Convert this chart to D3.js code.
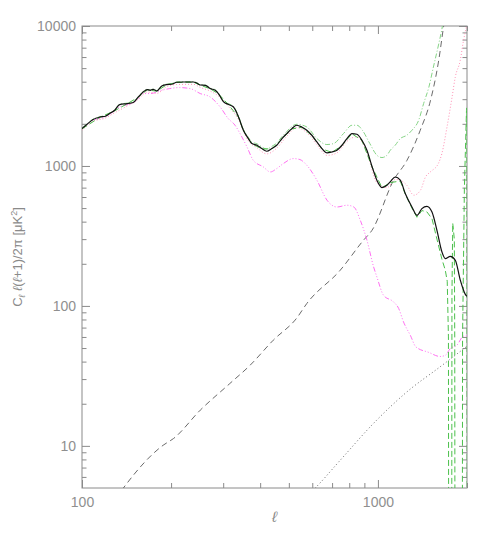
<!DOCTYPE html>
<html lang="en">
<head>
<meta charset="UTF-8">
<title>Power spectrum</title>
<style>
  html, body { margin: 0; background: #fff; }
  text { font-family: 'Liberation Sans', Arial, sans-serif; fill: #8a8a8a; }
  .frame { fill: none; stroke: #8a8a8a; stroke-width: 1; }
  .axis path { display: none; }
  .axis line { stroke: #8a8a8a; }
  .axis text { font-size: 14px; fill: #8f8f8f; }
  .curve { fill: none; }
</style>
</head>
<body>
<svg id="chart" width="491" height="540" viewBox="0 0 491 540"></svg>
<script src="https://cdnjs.cloudflare.com/ajax/libs/d3/7.8.5/d3.min.js"></script>
<script>

// multipoles and band powers
const ellBlack = [100,104,109,115,120,124,129,134,142,149,155,161,166,170,174,179,186,193,201,209,220,238,244,251,261,271,282,289,301,313,325,338,351,365,375,390,405,421,438,455,474,492,512,532,553,575,598,622,647,673,699,727,756,786,817,849,883,918,954,992,1032,1073,1100,1144,1190,1237,1303,1355,1408,1464,1523,1583,1646,1689,1756,1826,1898,1974,2000];
const clBlack  = [1849,1986,2145,2239,2265,2368,2500,2746,2791,2838,3112,3378,3514,3473,3531,3434,3728,3815,3834,3963,3981,3981,3917,3789,3770,3572,3473,3290,2866,2746,2639,2239,1799,1569,1445,1406,1331,1274,1331,1406,1569,1704,1849,1953,1899,1799,1657,1484,1331,1239,1259,1295,1406,1569,1704,1684,1526,1295,1000,791,701,728,769,834,791,635,509,444,496,515,469,347,243,218,226,212,153,121,117];

const ellGreenDash = [100,115,129,142,155,166,179,193,209,238,251,271,289,313,338,351,375,405,438,474,512,553,598,647,699,756,817,883,954,1032,1100,1190,1237,1303,1355,1408,1464,1523,1583,1646,1689,1715,1731,1735,1775,1779,1790,1812,1818,1822,1928,1932,1960,1992,1998,2004];
const clGreenDash  = [1840,2230,2480,2780,3100,3500,3420,3800,3950,3970,3780,3560,3280,2730,2230,1790,1440,1325,1325,1560,1840,1890,1650,1325,1250,1400,1700,1520,990,700,760,780,630,500,430,480,470,420,300,215,180,150,60,0.5,0.5,120,390,300,60,0.5,0.5,60,700,2500,2600,0.5];

const ellGreenDashDot = [100,104,109,115,120,124,129,134,142,149,155,161,166,170,174,179,186,193,201,209,220,238,244,251,261,271,282,289,301,313,325,338,351,365,375,390,405,421,438,455,474,492,512,532,575,622,672,708,765,817,850,886,939,992,1032,1073,1101,1144,1190,1252,1303,1373,1427,1487,1540,1606,1650,1670];
const clGreenDashDot  = [1860,2000,2160,2250,2280,2380,2520,2760,2810,2860,3130,3400,3530,3490,3550,3460,3750,3840,3860,3990,4000,4000,3940,3810,3790,3600,3500,3320,2900,2780,2670,2270,1830,1600,1480,1440,1370,1320,1380,1460,1620,1760,1920,1986,1899,1569,1422,1445,1704,1953,1953,1799,1445,1193,1148,1193,1295,1406,1569,1657,1799,2120,2791,3667,5094,7486,9837,11500];

const ellPinkDot = [100,109,120,129,142,155,166,179,193,209,238,251,271,289,313,338,365,390,421,455,492,532,575,622,673,727,786,849,918,992,1073,1144,1190,1252,1322,1393,1448,1503,1600,1645,1712,1781,1826,1898,1947,1990,2005];
const clPinkDot  = [1800,2080,2200,2400,2680,3000,3380,3300,3680,3820,3830,3640,3430,3160,2650,2150,1510,1350,1220,1340,1630,1880,1730,1420,1190,1240,1500,1620,1250,760,700,800,791,728,618,671,834,906,1040,1227,1899,3112,4323,5689,7906,9837,10500];

const ellMagenta = [100,109,120,134,151,161,170,186,198,214,232,251,271,293,312,329,342,361,379,410,433,455,479,518,545,575,622,673,727,786,829,872,918,967,992,1045,1128,1175,1220,1290,1343,1487,1622,1689,1756,1849,1947,2000];
const clMagenta  = [1849,2120,2240,2639,2866,3290,3290,3473,3572,3631,3572,3290,3112,2639,2181,1953,1704,1367,1098,984,906,958,1040,1129,1111,1012,791,569,509,524,509,409,295,190,161,119,107,96,77,61,51,46.5,43.5,44.4,49.6,52.4,60.8,61];

const ellNoiseDash = [130,138,188,204,251,316,370,443,532,575,746,894,955,1130,1254,1390,1506,1605,1666,1690];
const clNoiseDash  = [4.2,5.0,10.1,11.3,18,27.9,37.7,56.9,82,104,180,295,347,791,1098,1799,2947,5689,9837,12000];

const ellNoiseDot = [590,614,746,967,1253,1622,2000];
const clNoiseDot  = [4.6,5.0,7.9,14.5,24.3,36.7,51.5];

const majorX = [100, 1000];
const minorX = [200,300,400,500,600,700,800,900,2000];
const majorY = [10, 100, 1000, 10000];
const minorY = [6,7,8,9,20,30,40,50,60,70,80,90,200,300,400,500,600,700,800,900,2000,3000,4000,5000,6000,7000,8000,9000];

const svg = d3.select("#chart"),
    margin = {top: 26, right: 24, bottom: 52, left: 82},
    width = +svg.attr("width") - margin.left - margin.right,
    height = +svg.attr("height") - margin.top - margin.bottom;

const x = d3.scaleLog().domain([100, 2000]).range([0, width]);
const y = d3.scaleLog().domain([5, 10000]).range([height, 0]);

const g = svg.append("g")
    .attr("transform", "translate(" + margin.left + "," + margin.top + ")");

svg.append("defs").append("clipPath")
    .attr("id", "clip")
  .append("rect")
    .attr("width", width)
    .attr("height", height);

// ticks point inward on all four sides
function ticks(axis, values, size, labels) {
  return axis.tickValues(values).tickSize(-size).tickPadding(labels ? 6 : 0)
      .tickFormat(labels ? d3.format("d") : "");
}

g.append("g").attr("class", "axis").attr("transform", "translate(0," + height + ")")
    .call(ticks(d3.axisBottom(x), majorX, 8, true).tickPadding(9));
g.append("g").attr("class", "axis").attr("transform", "translate(0," + height + ")")
    .call(ticks(d3.axisBottom(x), minorX, 5, false));
g.append("g").attr("class", "axis")
    .call(ticks(d3.axisTop(x), majorX, 8, false));
g.append("g").attr("class", "axis")
    .call(ticks(d3.axisTop(x), minorX, 5, false));
g.append("g").attr("class", "axis")
    .call(ticks(d3.axisLeft(y), majorY, 8, true));
g.append("g").attr("class", "axis")
    .call(ticks(d3.axisLeft(y), minorY, 4.5, false));
g.append("g").attr("class", "axis").attr("transform", "translate(" + width + ",0)")
    .call(ticks(d3.axisRight(y), majorY, 8, false));
g.append("g").attr("class", "axis").attr("transform", "translate(" + width + ",0)")
    .call(ticks(d3.axisRight(y), minorY, 4.5, false));

g.append("rect")
    .attr("class", "frame")
    .attr("width", width)
    .attr("height", height);

const smooth = d3.line()
    .curve(d3.curveMonotoneX)
    .x(function (d) { return x(d[0]); })
    .y(function (d) { return y(d[1]); });

const straight = d3.line()
    .x(function (d) { return x(d[0]); })
    .y(function (d) { return y(d[1]); });

const curves = g.append("g").attr("clip-path", "url(#clip)");

function addCurve(ells, vals, color, dash, w, gen) {
  curves.append("path")
      .datum(d3.zip(ells, vals))
      .attr("class", "curve")
      .attr("stroke", color)
      .attr("stroke-width", w)
      .attr("stroke-dasharray", dash)
      .attr("d", gen || smooth);
}

addCurve(ellNoiseDash, clNoiseDash, "#6a6a6a", "6,4", 1);
addCurve(ellNoiseDot, clNoiseDot, "#6a6a6a", "1,2.5", 1);
addCurve(ellMagenta, clMagenta, "#ff70f2", "5,2,1,2,1,2,1,2", 1);
addCurve(ellPinkDot, clPinkDot, "#ff92b6", "1,2", 1);
addCurve(ellGreenDashDot, clGreenDashDot, "#86d486", "5,2,1,2", 1);
addCurve(ellGreenDash, clGreenDash, "#4cc04c", "6,3", 1, straight);
addCurve(ellBlack, clBlack, "#111", null, 1.2);

// axis titles
svg.append("text")
    .attr("x", margin.left + x(447))
    .attr("y", 522)
    .attr("text-anchor", "middle")
    .style("font-size", "15px")
    .style("font-style", "italic")
    .text("ℓ");

const yt = svg.append("text")
    .attr("transform", "translate(22," + (margin.top + height / 2) + ") rotate(-90)")
    .attr("text-anchor", "middle")
    .style("font-size", "13px");
yt.append("tspan").text("C");
yt.append("tspan").attr("dy", 3).style("font-size", "9px").style("font-style", "italic").text("ℓ");
yt.append("tspan").attr("dy", -3).style("font-style", "italic").text(" ℓ");
yt.append("tspan").text("(");
yt.append("tspan").style("font-style", "italic").text("ℓ");
yt.append("tspan").text("+1)/2π  [μK");
yt.append("tspan").attr("dy", -5).style("font-size", "9px").text("2");
yt.append("tspan").attr("dy", 5).text("]");

</script>
</body>
</html>
